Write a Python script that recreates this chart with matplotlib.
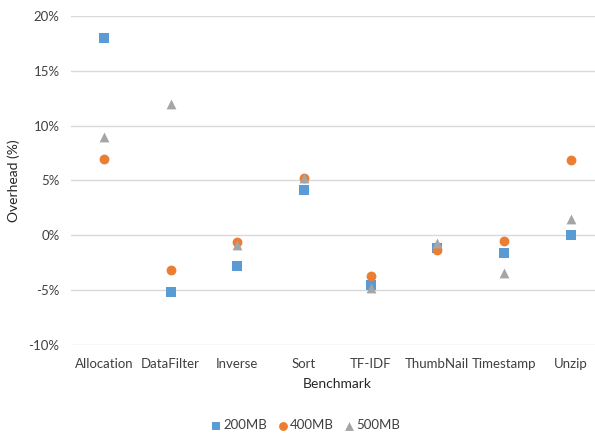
import matplotlib
matplotlib.use('Agg')
import matplotlib.pyplot as plt
from matplotlib.ticker import FuncFormatter

plt.rcParams['font.family'] = ['Lato', 'DejaVu Sans']

benchmarks = ['Allocation', 'DataFilter', 'Inverse', 'Sort', 'TF-IDF',
              'ThumbNail', 'Timestamp', 'Unzip']
mb200 = [18.0, -5.2, -2.8, 4.1, -4.5, -1.2, -1.6, 0.0]
mb400 = [7.0, -3.2, -0.6, 5.2, -3.7, -1.3, -0.5, 6.9]
mb500 = [9.0, 12.0, -0.9, 5.2, -4.8, -0.7, -3.4, 1.5]

fig = plt.figure(figsize=(5.95, 4.33), dpi=100)
# axes spans a bit past the right edge, like the original crop
ax = fig.add_axes([70.6 / 595, 1 - 345 / 433, (604 - 70.6) / 595, (345 - 16) / 433])

x = range(len(benchmarks))
ax.scatter(x, mb200, marker='s', s=42, color='#5B9BD5', label='200MB', zorder=3, linewidths=0)
ax.scatter(x, mb400, marker='o', s=50, color='#ED7D31', label='400MB', zorder=3, linewidths=0)
ax.scatter(x, mb500, marker='^', s=50, color='#A5A5A5', label='500MB', zorder=3, linewidths=0)

ax.set_xlim(-0.5, len(benchmarks) - 0.5)
ax.set_ylim(-10, 20)
ax.set_yticks(range(-10, 21, 5))
ax.yaxis.set_major_formatter(FuncFormatter(lambda v, p: f'{int(v)}%'))
ax.set_xticks(list(x))
ax.set_xticklabels(benchmarks)
ax.grid(axis='y', color='#D9D9D9', linewidth=1)
ax.set_axisbelow(True)
for s in ax.spines.values():
    s.set_visible(False)
ax.tick_params(length=0, labelsize=9.5, colors='#404040', pad=8)
ax.tick_params(axis='x', pad=9)

ax.set_xlabel('Benchmark', fontsize=10, color='#262626', labelpad=6)
ax.set_ylabel('Overhead (%)', fontsize=10, color='#262626', labelpad=6)

fig.legend(loc='center', bbox_to_anchor=(306 / 595, 1 - 425 / 433), ncol=3, frameon=False,
           fontsize=9.5, handlelength=0.7, handletextpad=0.2, columnspacing=0.8,
           markerscale=0.9, labelcolor='#404040')

fig.savefig('out.png', dpi=100)
